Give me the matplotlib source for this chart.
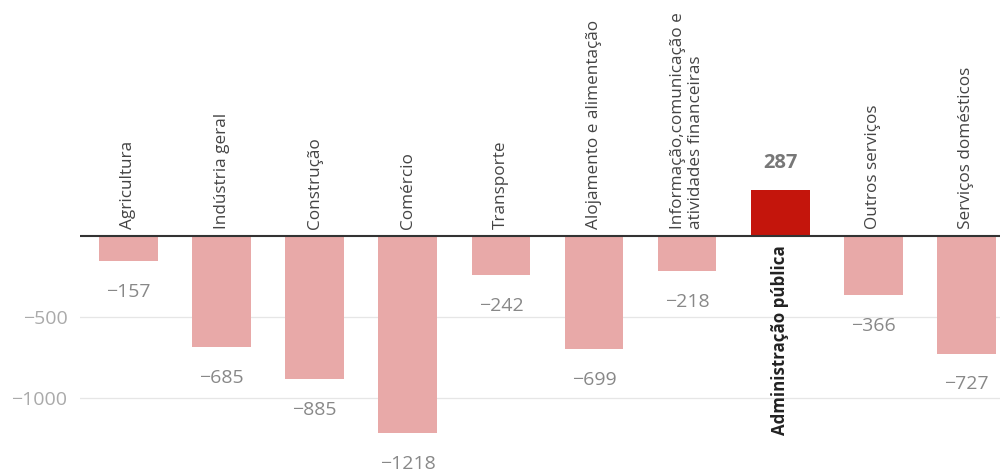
import matplotlib
matplotlib.use("Agg")
import matplotlib.pyplot as plt

plt.rcParams["font.family"] = ["Open Sans", "DejaVu Sans"]

# sectors and net change
sectors = [
    "Agricultura",
    "Indústria geral",
    "Construção",
    "Comércio",
    "Transporte",
    "Alojamento e alimentação",
    "Informação,comunicação e\natividades financeiras",
    "Administração pública",
    "Outros serviços",
    "Serviços domésticos",
]
values = [-157, -685, -885, -1218, -242, -699, -218, 287, -366, -727]
yticks = [-500, -1000]

NEG_COLOR = "#e8a9a8"
POS_COLOR = "#c4150c"


def fmt(v):
    return ("\u2212" + str(abs(v))) if v < 0 else str(v)


fig = plt.figure(figsize=(10, 4.73), dpi=100)
ax = fig.add_axes([0.08, 0.0, 0.92, 1.0])

x = list(range(len(values)))
colors = [POS_COLOR if v > 0 else NEG_COLOR for v in values]
ax.bar(x, values, width=0.63, color=colors, zorder=2)

ax.set_xlim(-0.52, len(values) - 0.64)
ax.set_ylim(-1463, 1457)

# grid lines and zero line
for t in yticks:
    ax.axhline(t, color="#e6e6e6", linewidth=0.9, zorder=1)
ax.axhline(0, color="#333333", linewidth=1.5, zorder=3)

ax.set_yticks(yticks)
ax.set_yticklabels([fmt(t) for t in yticks], color="#aaaaaa", fontsize=14)
ax.tick_params(axis="y", length=0, pad=9)
ax.set_xticks([])
for s in ax.spines.values():
    s.set_visible(False)

for xi, v, name in zip(x, values, sectors):
    if v < 0:
        # category above the zero line, value under the bar
        ax.annotate(name, (xi, 0), xytext=(0, 5), textcoords="offset points",
                    rotation=90, ha="center", va="bottom", multialignment="left",
                    fontsize=12.3, color="#444444", linespacing=1.2)
        ax.annotate(fmt(v), (xi, v), xytext=(0, -22), textcoords="offset points",
                    ha="center", va="center", fontsize=14, color="#888888")
    else:
        ax.annotate(name, (xi, 0), xytext=(0, -6.5), textcoords="offset points",
                    rotation=90, ha="center", va="top",
                    fontsize=12.2, fontweight="bold", color="#222222")
        ax.annotate(fmt(v), (xi, v), xytext=(0, 19), textcoords="offset points",
                    ha="center", va="center", fontsize=14.5, fontweight="bold",
                    color="#777777")

fig.savefig("out.png", dpi=100)
